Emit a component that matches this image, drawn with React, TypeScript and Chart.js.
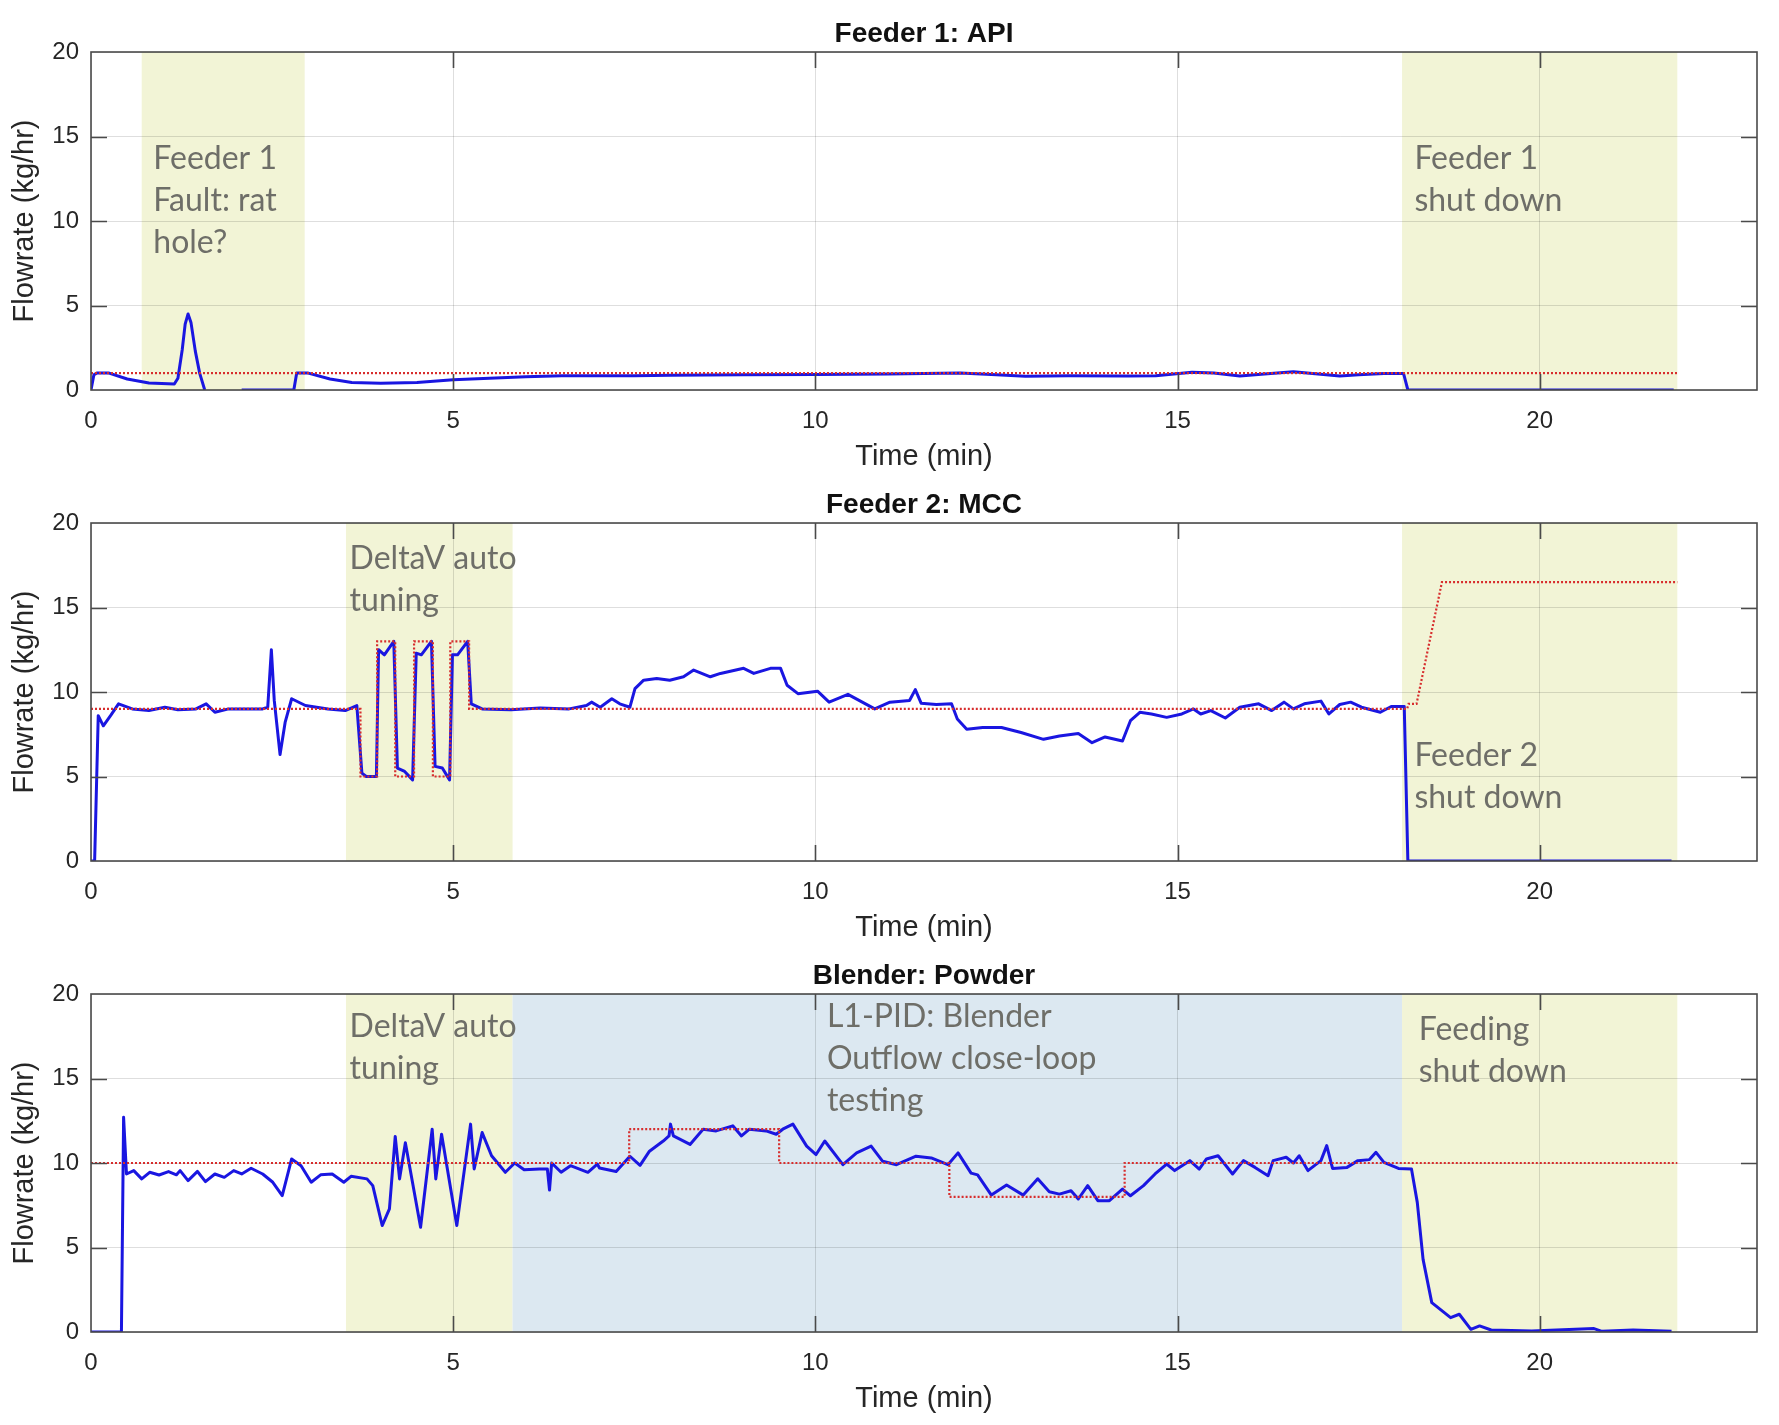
import React, { useEffect, useRef } from 'react';
import { Chart, registerables } from 'chart.js';

Chart.register(...registerables);

// ---------- axes / labels ----------
const X_TICKS = [0, 5, 10, 15, 20];
const Y_TICKS = [0, 5, 10, 15, 20];
const X_MAX = 23;
const Y_MAX = 20;
const X_LABEL = 'Time (min)';
const Y_LABEL = 'Flowrate (kg/hr)';
const PANEL_TITLES = ['Feeder 1: API', 'Feeder 2: MCC', 'Blender: Powder'];

// ---------- Feeder 1: API  [time (min), flowrate (kg/hr)] ----------
const apiFlow: [number, number | null][] = [
  [0, 0], [0.04, 0.9], [0.08, 1.0], [0.25, 1.0], [0.5, 0.65], [0.8, 0.42], [1.15, 0.35],
  [1.2, 0.7], [1.26, 2.4], [1.3, 3.9], [1.34, 4.5], [1.38, 4.0], [1.44, 2.3], [1.5, 1.0],
  [1.57, 0], [1.8, null], [2.08, 0], [2.8, 0], [2.84, 1.0], [3.0, 1.0], [3.3, 0.65],
  [3.6, 0.45], [4.0, 0.4], [4.5, 0.45], [5.0, 0.6], [5.5, 0.7], [6.0, 0.78], [6.5, 0.85],
  [7.0, 0.85], [7.5, 0.85], [8.0, 0.88], [9.0, 0.9], [10.0, 0.92], [11.0, 0.95], [12.0, 1.0],
  [12.5, 0.9], [12.9, 0.82], [13.5, 0.85], [14.3, 0.83], [14.7, 0.85], [15.2, 1.05],
  [15.5, 1.0], [15.86, 0.83], [16.2, 0.95], [16.6, 1.08], [17.24, 0.83], [17.5, 0.9],
  [17.85, 0.98], [18.12, 0.98], [18.18, 0], [21.85, 0],
];
const apiSetpoint: [number, number][] = [[0, 1], [21.9, 1]];

// ---------- Feeder 2: MCC ----------
const mccFlow: [number, number][] = [
  [0, 0], [0.05, 0], [0.1, 8.6], [0.17, 8.0], [0.27, 8.6], [0.38, 9.3], [0.57, 9.0], [0.8, 8.9],
  [1.02, 9.1], [1.2, 8.95], [1.45, 9.0], [1.59, 9.3], [1.71, 8.8], [1.9, 9.0], [2.1, 9.0],
  [2.37, 9.0], [2.44, 9.1], [2.49, 12.5], [2.53, 9.5], [2.61, 6.3], [2.68, 8.2], [2.77, 9.6],
  [2.96, 9.2], [3.27, 9.0], [3.51, 8.9], [3.67, 9.2], [3.74, 5.2], [3.8, 5.0], [3.94, 5.0],
  [3.97, 12.5], [4.05, 12.2], [4.18, 13.0], [4.23, 5.5], [4.33, 5.3], [4.44, 4.8], [4.49, 12.3],
  [4.56, 12.2], [4.7, 13.0], [4.75, 5.6], [4.85, 5.5], [4.95, 4.8], [4.99, 12.2], [5.06, 12.2],
  [5.2, 13.0], [5.25, 9.3], [5.4, 9.0], [5.8, 8.95], [6.2, 9.05], [6.6, 9.0], [6.84, 9.2],
  [6.91, 9.4], [7.03, 9.1], [7.19, 9.6], [7.3, 9.3], [7.44, 9.1], [7.51, 10.2], [7.63, 10.7],
  [7.81, 10.8], [7.99, 10.7], [8.18, 10.9], [8.32, 11.3], [8.55, 10.9], [8.69, 11.1],
  [9.01, 11.4], [9.15, 11.1], [9.38, 11.4], [9.52, 11.4], [9.61, 10.4], [9.76, 9.9],
  [10.03, 10.05], [10.19, 9.4], [10.45, 9.86], [10.82, 9.0], [11.03, 9.4], [11.3, 9.5],
  [11.38, 10.14], [11.46, 9.34], [11.67, 9.26], [11.88, 9.3], [11.96, 8.4], [12.09, 7.8],
  [12.31, 7.9], [12.57, 7.9], [12.84, 7.6], [13.15, 7.2], [13.37, 7.4], [13.63, 7.54],
  [13.82, 7.0], [14.0, 7.34], [14.24, 7.1], [14.35, 8.3], [14.48, 8.8], [14.64, 8.7],
  [14.85, 8.5], [15.06, 8.7], [15.22, 9.0], [15.32, 8.7], [15.46, 8.9], [15.66, 8.46],
  [15.86, 9.1], [16.12, 9.3], [16.3, 8.9], [16.47, 9.4], [16.6, 9.0], [16.75, 9.3],
  [16.98, 9.46], [17.09, 8.7], [17.24, 9.26], [17.39, 9.4], [17.54, 9.1], [17.8, 8.8],
  [17.95, 9.14], [18.13, 9.14], [18.18, 0], [21.82, 0],
];
const mccSetpoint: [number, number][] = [
  [0, 9], [3.72, 9], [3.72, 5], [3.95, 5], [3.95, 13], [4.2, 13], [4.2, 5], [4.46, 5],
  [4.46, 13], [4.72, 13], [4.72, 5], [4.96, 5], [4.96, 13], [5.22, 13], [5.22, 9],
  [18.17, 9], [18.19, 9.3], [18.3, 9.3], [18.65, 16.5], [21.9, 16.5],
];

// ---------- Blender: Powder ----------
const blendFlow: [number, number][] = [
  [0, 0], [0.42, 0], [0.45, 12.7], [0.49, 9.35], [0.59, 9.55], [0.7, 9.06], [0.81, 9.45],
  [0.94, 9.29], [1.07, 9.49], [1.18, 9.3], [1.23, 9.55], [1.34, 8.96], [1.47, 9.5], [1.58, 8.9],
  [1.71, 9.35], [1.84, 9.15], [1.97, 9.55], [2.08, 9.35], [2.21, 9.69], [2.37, 9.35],
  [2.51, 8.86], [2.64, 8.07], [2.77, 10.24], [2.9, 9.84], [3.04, 8.86], [3.17, 9.3],
  [3.33, 9.35], [3.49, 8.86], [3.59, 9.21], [3.81, 9.06], [3.89, 8.66], [4.02, 6.3],
  [4.12, 7.28], [4.2, 11.57], [4.26, 9.06], [4.34, 11.2], [4.55, 6.2], [4.71, 12.0],
  [4.76, 9.06], [4.84, 11.7], [5.05, 6.3], [5.24, 12.3], [5.29, 9.65], [5.4, 11.8],
  [5.53, 10.43], [5.72, 9.45], [5.85, 10.0], [5.98, 9.6], [6.19, 9.65], [6.3, 9.65],
  [6.33, 8.4], [6.36, 10.0], [6.49, 9.45], [6.62, 9.84], [6.86, 9.45], [6.99, 9.94],
  [7.02, 9.7], [7.25, 9.5], [7.44, 10.4], [7.58, 9.86], [7.71, 10.7], [7.9, 11.3],
  [7.98, 11.6], [8.0, 12.3], [8.04, 11.6], [8.27, 11.1], [8.45, 12.0], [8.63, 11.9],
  [8.86, 12.2], [8.98, 11.6], [9.09, 12.0], [9.32, 11.9], [9.46, 11.7], [9.55, 12.0],
  [9.69, 12.3], [9.88, 11.0], [10.01, 10.5], [10.13, 11.3], [10.38, 9.9], [10.57, 10.6],
  [10.77, 11.0], [10.93, 10.1], [11.12, 9.9], [11.39, 10.4], [11.6, 10.3], [11.83, 9.9],
  [11.97, 10.6], [12.15, 9.4], [12.24, 9.3], [12.43, 8.1], [12.64, 8.7], [12.87, 8.1],
  [13.07, 9.07], [13.23, 8.3], [13.37, 8.16], [13.53, 8.36], [13.63, 7.87], [13.76, 8.66],
  [13.9, 7.77], [14.06, 7.77], [14.24, 8.46], [14.35, 8.06], [14.53, 8.66], [14.69, 9.35],
  [14.85, 9.94], [14.96, 9.55], [15.17, 10.14], [15.3, 9.64], [15.4, 10.24], [15.56, 10.43],
  [15.76, 9.35], [15.91, 10.14], [16.07, 9.74], [16.25, 9.25], [16.32, 10.14], [16.5, 10.34],
  [16.6, 10.0], [16.68, 10.43], [16.8, 9.55], [16.98, 10.14], [17.06, 11.03], [17.14, 9.68],
  [17.34, 9.74], [17.49, 10.14], [17.65, 10.2], [17.74, 10.63], [17.85, 10.04], [18.05, 9.68],
  [18.23, 9.64], [18.31, 7.67], [18.39, 4.3], [18.51, 1.74], [18.77, 0.85], [18.89, 1.05],
  [19.05, 0.16], [19.17, 0.36], [19.33, 0.12], [19.89, 0.06], [20.75, 0.2], [20.86, 0.04],
  [21.29, 0.12], [21.82, 0.04],
];
const blendSetpoint: [number, number][] = [
  [0, 10], [7.43, 10], [7.43, 12], [9.5, 12], [9.5, 10], [11.85, 10], [11.85, 8],
  [14.27, 8], [14.27, 10], [21.9, 10],
];

// ---------- styling ----------
const YELLOW = '#f2f4d6';
const BLUE_BG = '#dce8f1';
const FLOW_COLOR = 'rgb(26,22,225)';
const SP_COLOR = 'rgb(215,45,45)';
const NOTE_COLOR = '#6e6e68';
const TEXT_COLOR = '#262626';
const AXIS_FONT = '"Liberation Sans", Arial, sans-serif';
const NOTE_FONT = '32px Lato, "Open Sans", sans-serif';
const NOTE_LINE = 42;
const TICK_LEN = 16;

type Band = { from: number; to: number; color: string };
type Note = { x: number; y: number; lines: string[] };
type PanelCfg = {
  title: string;
  flow: [number, number | null][];
  setpoint: [number, number][];
  bands: Band[];
  notes: Note[];
};

const PANELS: PanelCfg[] = [
  {
    title: PANEL_TITLES[0], flow: apiFlow, setpoint: apiSetpoint,
    bands: [{ from: 0.7, to: 2.95, color: YELLOW }, { from: 18.1, to: 21.9, color: YELLOW }],
    notes: [
      { x: 0.86, y: 13.67, lines: ['Feeder 1', 'Fault: rat', 'hole?'] },
      { x: 18.27, y: 13.67, lines: ['Feeder 1', 'shut down'] },
    ],
  },
  {
    title: PANEL_TITLES[1], flow: mccFlow, setpoint: mccSetpoint,
    bands: [{ from: 3.52, to: 5.82, color: YELLOW }, { from: 18.1, to: 21.9, color: YELLOW }],
    notes: [
      { x: 3.57, y: 17.87, lines: ['DeltaV auto', 'tuning'] },
      { x: 18.27, y: 6.21, lines: ['Feeder 2', 'shut down'] },
    ],
  },
  {
    title: PANEL_TITLES[2], flow: blendFlow, setpoint: blendSetpoint,
    bands: [
      { from: 3.52, to: 5.82, color: YELLOW },
      { from: 5.82, to: 18.1, color: BLUE_BG },
      { from: 18.1, to: 21.9, color: YELLOW },
    ],
    notes: [
      { x: 3.57, y: 18.05, lines: ['DeltaV auto', 'tuning'] },
      { x: 10.16, y: 18.64, lines: ['L1-PID: Blender', 'Outflow close-loop', 'testing'] },
      { x: 18.33, y: 17.87, lines: ['Feeding', 'shut down'] },
    ],
  },
];

const CANVAS_W = 1763;
const CANVAS_H = 467;
const PANEL_TOPS = [0, 471, 942];

function makePlugin(cfg: PanelCfg) {
  return {
    id: 'panelDecor',
    beforeDraw(chart: any) {
      const { ctx, chartArea, scales } = chart;
      const x = scales.x;
      ctx.save();
      cfg.bands.forEach((b) => {
        const x0 = x.getPixelForValue(b.from);
        const x1 = x.getPixelForValue(b.to);
        ctx.fillStyle = b.color;
        ctx.fillRect(x0, chartArea.top, x1 - x0, chartArea.bottom - chartArea.top);
      });
      ctx.restore();
    },
    afterDatasetsDraw(chart: any) {
      const { ctx, scales } = chart;
      ctx.save();
      ctx.font = NOTE_FONT;
      ctx.fillStyle = NOTE_COLOR;
      ctx.textAlign = 'left';
      ctx.textBaseline = 'middle';
      cfg.notes.forEach((n) => {
        const px = scales.x.getPixelForValue(n.x);
        const py = scales.y.getPixelForValue(n.y);
        n.lines.forEach((line, i) => ctx.fillText(line, px, py + i * NOTE_LINE));
      });
      ctx.restore();
    },
    afterDraw(chart: any) {
      const { ctx, chartArea, scales } = chart;
      const { left, right, top, bottom } = chartArea;
      ctx.save();
      ctx.strokeStyle = '#4a4a4a';
      ctx.lineWidth = 1.6;
      ctx.strokeRect(left, top, right - left, bottom - top);
      ctx.beginPath();
      X_TICKS.forEach((v) => {
        if (v <= 0 || v >= X_MAX) return;
        const px = Math.round(scales.x.getPixelForValue(v)) + 0.5;
        ctx.moveTo(px, bottom); ctx.lineTo(px, bottom - TICK_LEN);
        ctx.moveTo(px, top); ctx.lineTo(px, top + TICK_LEN);
      });
      Y_TICKS.forEach((v) => {
        if (v <= 0 || v >= Y_MAX) return;
        const py = Math.round(scales.y.getPixelForValue(v)) + 0.5;
        ctx.moveTo(left, py); ctx.lineTo(left + TICK_LEN, py);
        ctx.moveTo(right, py); ctx.lineTo(right - TICK_LEN, py);
      });
      ctx.stroke();
      ctx.restore();
    },
  };
}

function Panel({ cfg, top }: { cfg: PanelCfg; top: number }) {
  const ref = useRef<HTMLCanvasElement>(null);
  useEffect(() => {
    const canvas = ref.current;
    if (!canvas) return;
    const chart = new Chart(canvas, {
      type: 'line',
      data: {
        datasets: [
          {
            label: 'Setpoint',
            data: cfg.setpoint.map(([t, v]) => ({ x: t, y: v })),
            borderColor: SP_COLOR,
            borderWidth: 2.2,
            borderDash: [2, 2],
            pointRadius: 0,
            tension: 0,
            fill: false,
          },
          {
            label: 'Flowrate',
            data: cfg.flow.map(([t, v]) => ({ x: t, y: v })),
            borderColor: FLOW_COLOR,
            borderWidth: 3,
            borderJoinStyle: 'round',
            pointRadius: 0,
            tension: 0,
            spanGaps: false,
            fill: false,
          },
        ],
      },
      options: {
        responsive: false,
        animation: false,
        events: [],
        layout: { padding: { left: 0, right: 14, top: 0, bottom: 0 } },
        plugins: {
          legend: { display: false },
          tooltip: { enabled: false },
          title: {
            display: true,
            text: cfg.title,
            fullSize: false,
            color: '#111',
            font: { family: AXIS_FONT, size: 28, weight: 'bold' },
            padding: { top: 9, bottom: 1.4 },
          },
        },
        scales: {
          x: {
            type: 'linear',
            min: 0,
            max: X_MAX,
            afterBuildTicks: (s: any) => {
              s.ticks = X_TICKS.map((v) => ({ value: v }));
            },
            afterFit: (s: any) => { s.height = 85; },
            ticks: {
              color: TEXT_COLOR,
              font: { family: AXIS_FONT, size: 24 },
              padding: 17,
              maxRotation: 0,
              autoSkip: false,
            },
            grid: { color: 'rgba(0,0,0,0.13)', lineWidth: 1, drawTicks: false },
            border: { display: false },
            title: {
              display: true,
              text: X_LABEL,
              color: TEXT_COLOR,
              font: { family: AXIS_FONT, size: 29 },
              padding: { top: 0, bottom: 0.6 },
            },
          },
          y: {
            type: 'linear',
            min: 0,
            max: Y_MAX,
            afterBuildTicks: (s: any) => {
              s.ticks = Y_TICKS.map((v) => ({ value: v }));
            },
            afterFit: (s: any) => { s.width = 83; },
            ticks: {
              color: TEXT_COLOR,
              font: { family: AXIS_FONT, size: 24 },
              padding: 12,
            },
            grid: { color: 'rgba(0,0,0,0.13)', lineWidth: 1, drawTicks: false },
            border: { display: false },
            title: {
              display: true,
              text: Y_LABEL,
              color: TEXT_COLOR,
              font: { family: AXIS_FONT, size: 29 },
              padding: { top: 0, bottom: 0 },
            },
          },
        },
      },
      plugins: [makePlugin(cfg)],
    } as any);
    return () => chart.destroy();
  }, [cfg]);
  return (
    <div style={{ position: 'absolute', left: 0, top, width: CANVAS_W, height: CANVAS_H }}>
      <canvas ref={ref} width={CANVAS_W} height={CANVAS_H} style={{ display: 'block' }} />
    </div>
  );
}

export default function App() {
  return (
    <div style={{ position: 'relative', width: CANVAS_W, height: 1409, overflow: 'hidden', background: '#fff' }}>
      {PANELS.map((p, i) => (
        <Panel key={p.title} cfg={p} top={PANEL_TOPS[i]} />
      ))}
    </div>
  );
}
